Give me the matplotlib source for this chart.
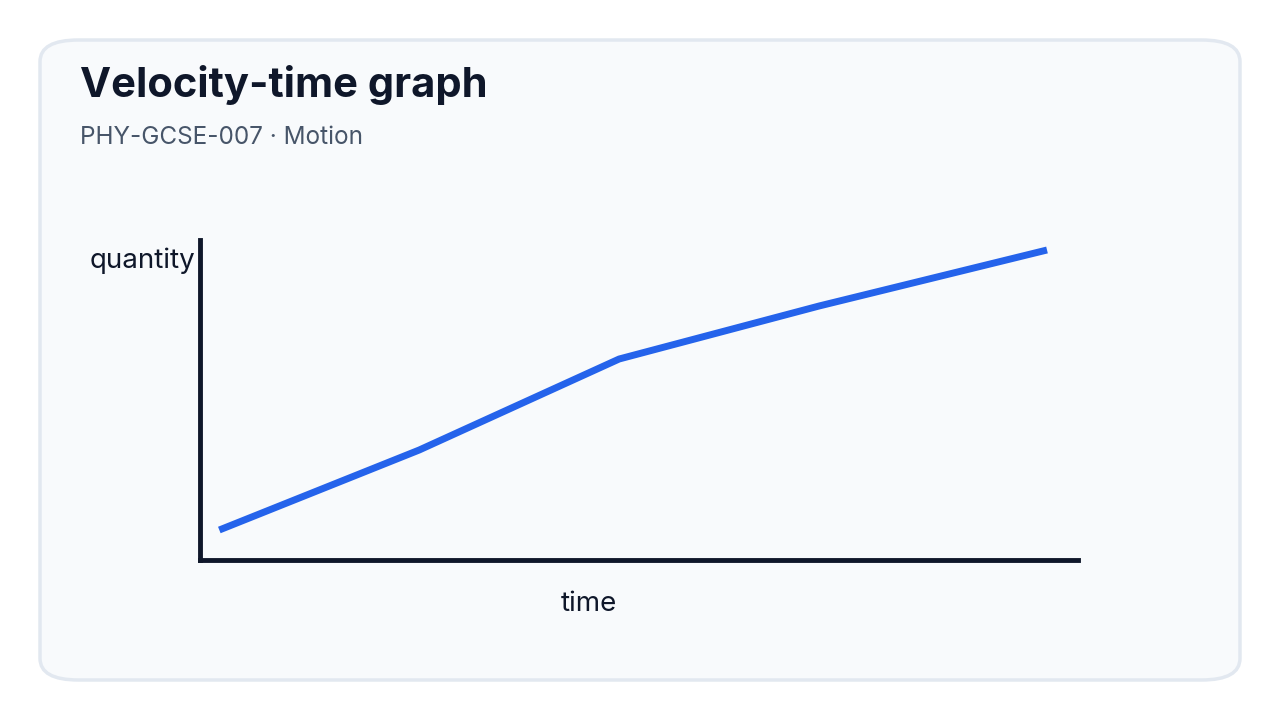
import matplotlib
matplotlib.use("Agg")
import matplotlib.pyplot as plt
from matplotlib.patches import FancyBboxPatch

title = "Velocity-time graph"
subtitle = "PHY-GCSE-007 · Motion"
x_label = "time"
y_label = "quantity"
times = [0, 1, 2, 3, 4.14]
values = [1.5, 5.5, 10.05, 12.7, 15.5]

plt.rcParams['font.family'] = ['Inter', 'DejaVu Sans']
W, H = 1280, 720
fig = plt.figure(figsize=(12.8, 7.2), dpi=100)
fig.patch.set_facecolor("white")
card = FancyBboxPatch((40/W, 40/H), 1200/W, 640/H, boxstyle="round,pad=0,rounding_size=0.03",
                      transform=fig.transFigure, facecolor="#f8fafc", edgecolor="#e2e8f0",
                      linewidth=2.5, zorder=-10)
fig.patches.append(card)
fig.text(80/W, 1-85/H, title, fontsize=30, fontweight="bold", color="#0f172a", va="center")
fig.text(80/W, 1-137/H, subtitle, fontsize=17.5, color="#475569", va="center")

ax = fig.add_axes([200/W, 1-560/H, 878/W, 320/H])
ax.set_zorder(5)
ax.set_facecolor("none")
ax.plot(times, values, color="#2563eb", linewidth=5, solid_capstyle="butt")
ax.set_xlim(-0.0966, 4.145 + (1078-1048)/200)
ax.set_ylim(0, 16)
for s in ["top", "right"]:
    ax.spines[s].set_visible(False)
for s in ["left", "bottom"]:
    ax.spines[s].set_linewidth(3.5)
    ax.spines[s].set_color("#0f172a")
ax.set_xticks([]); ax.set_yticks([])
fig.text(589/W, 1-604/H, x_label, fontsize=20, color="#0f172a", ha="center", va="center")
fig.text(90/W, 1-261/H, y_label, fontsize=20, color="#0f172a", ha="left", va="center")
fig.savefig("out.png", dpi=100)
